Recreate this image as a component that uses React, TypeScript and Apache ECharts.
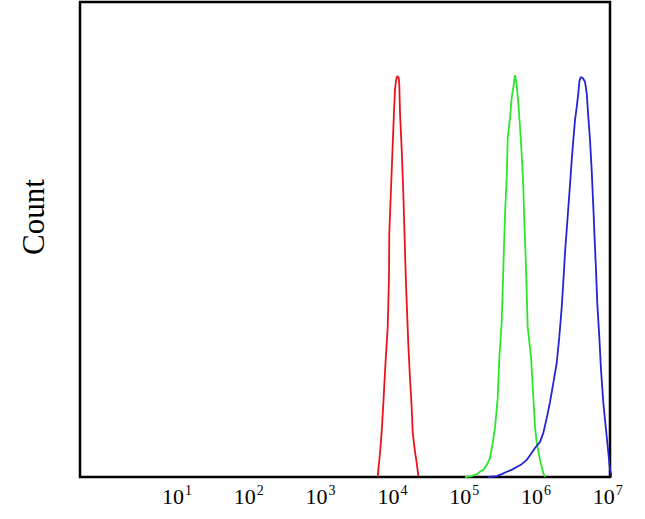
import React, { useEffect, useRef } from "react";
import * as echarts from "echarts";

// x values are log10(fluorescence), y values are counts (relative)
const tickExponents = [1, 2, 3, 4, 5, 6, 7];

const redX = [3.795, 3.804, 3.828, 3.851, 3.873, 3.901, 3.935, 3.953, 3.957, 3.981, 4.004, 4.022, 4.036, 4.05, 4.068, 4.088, 4.096, 4.106, 4.13, 4.152, 4.176, 4.19, 4.222, 4.245, 4.269, 4.283, 4.315, 4.339, 4.361];
const redY = [0, 1.5, 5.1, 9.5, 15.2, 23.2, 31.6, 42.5, 51.4, 60.8, 69.9, 76.8, 81.5, 83.4, 84.4, 84.0, 82.5, 76.6, 68.8, 59.8, 47.4, 40.4, 27.8, 20.8, 14.5, 9.3, 5.3, 2.9, 0.2];

const greenX = [5.011, 5.104, 5.174, 5.22, 5.266, 5.313, 5.359, 5.397, 5.429, 5.466, 5.489, 5.522, 5.544, 5.568, 5.592, 5.606, 5.638, 5.661, 5.689, 5.707, 5.731, 5.753, 5.777, 5.801, 5.823, 5.837, 5.856, 5.861, 5.884, 5.93, 5.962, 5.986, 6.01, 6.056, 6.102, 6.125];
const greenY = [0, 0.2, 0.6, 1.1, 1.5, 2.5, 4.0, 7.2, 10.5, 16.6, 25.1, 32.6, 43.6, 55.2, 63.2, 71.4, 75.6, 79.8, 82.5, 84.6, 82.5, 78.7, 73.7, 67.8, 61.1, 53.5, 46.3, 43.6, 31.6, 25.3, 16.8, 10.5, 7.2, 3.6, 0.8, 0];

const blueX = [5.336, 5.453, 5.522, 5.592, 5.661, 5.731, 5.801, 5.87, 5.94, 5.986, 6.056, 6.102, 6.149, 6.195, 6.241, 6.288, 6.324, 6.358, 6.39, 6.404, 6.427, 6.45, 6.473, 6.497, 6.519, 6.543, 6.567, 6.589, 6.603, 6.622, 6.65, 6.682, 6.706, 6.728, 6.752, 6.775, 6.798, 6.821, 6.835, 6.853, 6.881, 6.905, 6.937, 6.975, 7.007, 7.03, 7.06];
const blueY = [0, 0.2, 0.6, 1.1, 1.5, 2.1, 2.7, 3.6, 5.1, 6.1, 7.4, 9.3, 12.4, 15.8, 19.8, 24.0, 29.5, 35.8, 43.6, 47.4, 52.0, 56.8, 61.5, 66.7, 70.9, 75.2, 77.9, 80.8, 83.2, 84.2, 84.0, 83.2, 80.8, 75.8, 70.9, 64.6, 56.8, 48.4, 43.6, 36.6, 29.5, 22.5, 15.6, 9.9, 5.1, 1.5, 0];

const zip = (xs: number[], ys: number[]) => xs.map((x, i) => [x, ys[i]]);

export default function App() {
  const ref = useRef<HTMLDivElement>(null);
  useEffect(() => {
    if (!ref.current) return;
    const chart = echarts.init(ref.current, null, { renderer: "svg" });
    const serif = "Liberation Serif";
    chart.setOption({
      animation: false,
      backgroundColor: "#ffffff",
      grid: {
        left: 80,
        right: 35,
        top: 2,
        bottom: 42,
        show: true,
        borderColor: "#000000",
        borderWidth: 2.5,
      },
      xAxis: {
        type: "value",
        min: -0.35,
        max: 7.03,
        axisLine: { show: false },
        axisTick: { show: false },
        splitLine: { show: false },
        axisLabel: {
          customValues: tickExponents,
          margin: 6,
          formatter: (v: number) => `{b|10}{s|${v}}`,
          rich: {
            b: { fontSize: 22, fontFamily: serif, color: "#000", lineHeight: 24, verticalAlign: "bottom" },
            s: { fontSize: 14, fontFamily: serif, color: "#000", lineHeight: 24, verticalAlign: "top", padding: [0, 0, 0, 1] },
          },
        },
      },
      yAxis: {
        type: "value",
        min: 0,
        max: 100,
        show: false,
      },
      graphic: [
        {
          type: "text",
          x: 33,
          y: 217,
          rotation: Math.PI / 2,
          style: {
            text: "Count",
            font: `31px "${serif}"`,
            fill: "#000",
            align: "center",
            verticalAlign: "middle",
          },
        },
      ],
      series: [
        { type: "line", data: zip(redX, redY), showSymbol: false, lineStyle: { color: "#e8141b", width: 1.8 }, itemStyle: { color: "#e8141b" } },
        { type: "line", data: zip(greenX, greenY), showSymbol: false, lineStyle: { color: "#2ce62c", width: 1.8 }, itemStyle: { color: "#2ce62c" } },
        { type: "line", data: zip(blueX, blueY), showSymbol: false, lineStyle: { color: "#2424d4", width: 1.8 }, itemStyle: { color: "#2424d4" } },
      ],
    });
    return () => chart.dispose();
  }, []);
  return <div ref={ref} style={{ position: "fixed", left: 0, top: 0, width: 645, height: 519 }} />;
}
